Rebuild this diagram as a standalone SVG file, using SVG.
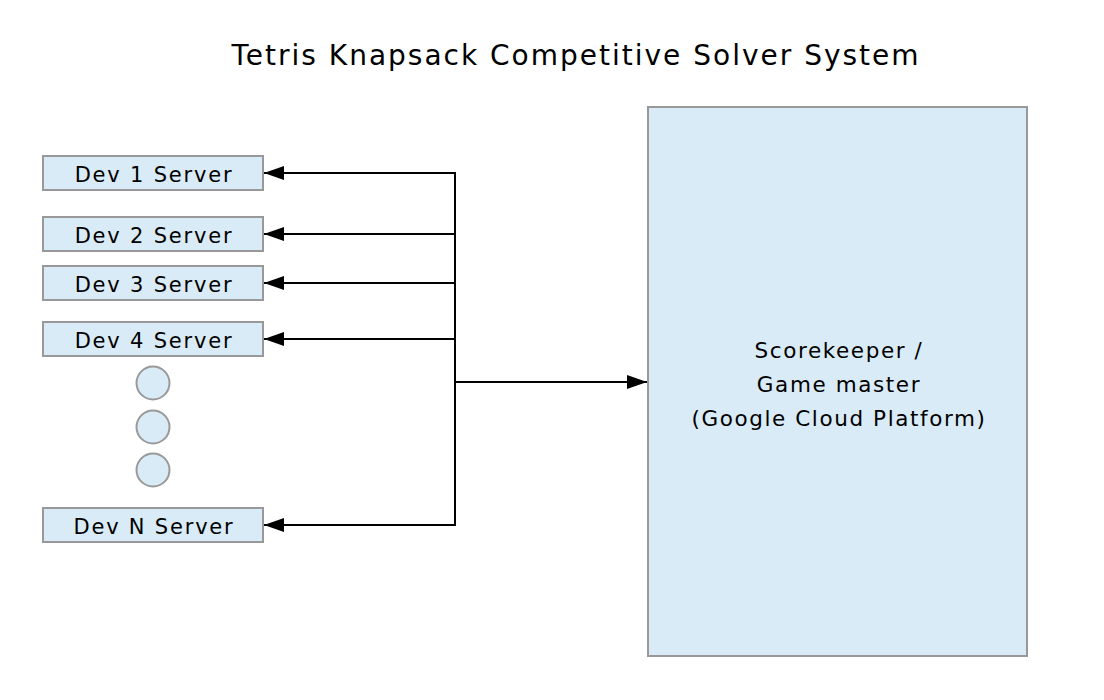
<svg xmlns="http://www.w3.org/2000/svg" width="1104" height="700" viewBox="0 0 1104 700">
<style>
.box{fill:#d9ebf6;stroke:#999999;stroke-width:2}
.t{font-family:"DejaVu Sans","Liberation Sans",sans-serif;fill:#000;text-anchor:middle}
.dev{font-size:21px;letter-spacing:1.8px}
.big{font-size:21.5px;letter-spacing:1.6px}
.line{stroke:#000;stroke-width:2;fill:none}
</style>
<defs>
<marker id="ah" markerUnits="userSpaceOnUse" markerWidth="20" markerHeight="14" refX="20" refY="7" orient="auto">
<path d="M0,0 L20,7 L0,14 Z" fill="#000"/>
</marker>
</defs>
<rect width="1104" height="700" fill="#fff"/>
<text class="t" x="576" y="65" font-size="28" letter-spacing="2">Tetris Knapsack Competitive Solver System</text>
<g id="dev1"><rect class="box" x="43" y="156" width="220" height="34"/><text class="t dev" x="154" y="182">Dev 1 Server</text></g>
<g id="dev2"><rect class="box" x="43" y="217" width="220" height="34"/><text class="t dev" x="154" y="243">Dev 2 Server</text></g>
<g id="dev3"><rect class="box" x="43" y="266" width="220" height="34"/><text class="t dev" x="154" y="292">Dev 3 Server</text></g>
<g id="dev4"><rect class="box" x="43" y="322" width="220" height="34"/><text class="t dev" x="154" y="348">Dev 4 Server</text></g>
<g id="dot1"><circle class="box" cx="153" cy="383" r="16.5"/></g>
<g id="dot2"><circle class="box" cx="153" cy="427" r="16.5"/></g>
<g id="dot3"><circle class="box" cx="153" cy="470" r="16.5"/></g>
<g id="devN"><rect class="box" x="43" y="508" width="220" height="34"/><text class="t dev" x="154" y="534">Dev N Server</text></g>
<g id="master"><rect class="box" x="648" y="107" width="379" height="549"/>
<text class="t big" x="839" y="358">Scorekeeper /</text>
<text class="t big" x="839" y="392">Game master</text>
<text class="t big" x="839" y="426">(Google Cloud Platform)</text></g>
<g id="connectors">
<line class="line" x1="455" y1="172" x2="455" y2="526"/>
<line class="line" x1="455" y1="173" x2="264" y2="173" marker-end="url(#ah)"/>
<line class="line" x1="455" y1="234" x2="264" y2="234" marker-end="url(#ah)"/>
<line class="line" x1="455" y1="283" x2="264" y2="283" marker-end="url(#ah)"/>
<line class="line" x1="455" y1="339" x2="264" y2="339" marker-end="url(#ah)"/>
<line class="line" x1="455" y1="525" x2="264" y2="525" marker-end="url(#ah)"/>
<line class="line" x1="455" y1="382" x2="647" y2="382" marker-end="url(#ah)"/>
</g>
</svg>
